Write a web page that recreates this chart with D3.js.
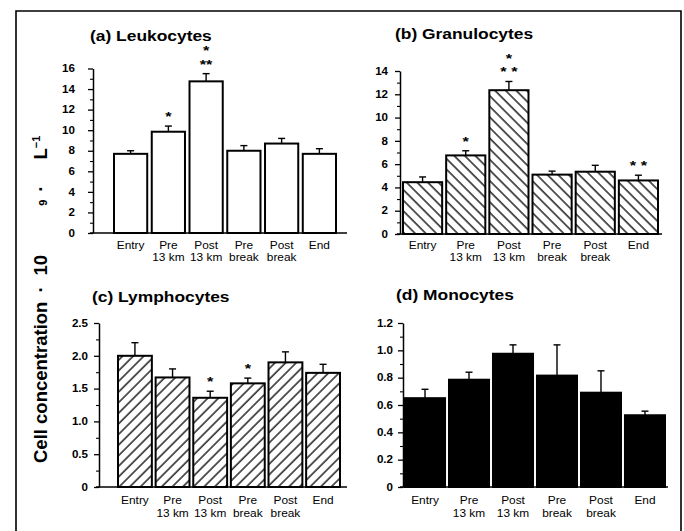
<!DOCTYPE html>
<html>
<head>
<meta charset="utf-8">
<script src="https://cdn.jsdelivr.net/npm/d3@7"></script>
<style>
html,body{margin:0;padding:0;background:#fff;}
svg{display:block;}
text{font-family:"Liberation Sans",Arial,Helvetica,sans-serif;fill:#000;}
</style>
</head>
<body>
<script>
// ---------- data ----------
const categories = ["Entry", "Pre 13 km", "Post 13 km", "Pre break", "Post break", "End"];
const catLine1 = ["Entry", "Pre", "Post", "Pre", "Post", "End"];
const catLine2 = ["", "13 km", "13 km", "break", "break", ""];

const leukoMean = [7.7, 9.85, 14.75, 8.0, 8.7, 7.7];
const leukoErr  = [0.3, 0.55, 0.75, 0.5, 0.5, 0.5];
const leukoSig  = ["", "*", "*|**", "", "", ""];
const leukoTicks = [0, 2, 4, 6, 8, 10, 12, 14, 16];
const leukoTickLabels = ["0", "2", "4", "6", "8", "10", "12", "14", "16"];
const leukoMinor = [1, 3, 5, 7, 9, 11, 13, 15];

const granMean = [4.45, 6.75, 12.35, 5.1, 5.35, 4.6];
const granErr  = [0.45, 0.4, 0.75, 0.3, 0.55, 0.45];
const granSig  = ["", "*", "*|* *", "", "", "* *"];
const granTicks = [0, 2, 4, 6, 8, 10, 12, 14];
const granTickLabels = ["0", "2", "4", "6", "8", "10", "12", "14"];
const granMinor = [1, 3, 5, 7, 9, 11, 13];

const lymphMean = [2.0, 1.67, 1.36, 1.58, 1.9, 1.74];
const lymphErr  = [0.2, 0.13, 0.1, 0.08, 0.16, 0.13];
const lymphSig  = ["", "", "*", "*", "", ""];
const lymphTicks = [0, 0.5, 1.0, 1.5, 2.0, 2.5];
const lymphTickLabels = ["0", "0.5", "1.0", "1.5", "2.0", "2.5"];
const lymphMinor = [0.25, 0.75, 1.25, 1.75, 2.25];

const monoMean = [0.65, 0.785, 0.975, 0.815, 0.69, 0.525];
const monoErr  = [0.065, 0.055, 0.065, 0.225, 0.16, 0.03];
const monoSig  = ["", "", "", "", "", ""];
const monoTicks = [0, 0.2, 0.4, 0.6, 0.8, 1.0, 1.2];
const monoTickLabels = ["0", "0.2", "0.4", "0.6", "0.8", "1.0", "1.2"];
const monoMinor = [0.1, 0.3, 0.5, 0.7, 0.9, 1.1];

const titles = ["(a) Leukocytes", "(b) Granulocytes", "(c) Lymphocytes", "(d) Monocytes"];

// ---------- layout ----------
const W = 684, H = 531;
const STRETCH = 1.16;
const svg = d3.select("body").append("svg").attr("width", W).attr("height", H);

const defs = svg.append("defs");
function hatch(id, angle) {
  const p = defs.append("pattern").attr("id", id)
    .attr("patternUnits", "userSpaceOnUse")
    .attr("width", 7.5).attr("height", 10)
    .attr("patternTransform", `rotate(${angle})`);
  p.append("rect").attr("width", 7.5).attr("height", 10).attr("fill", "#fff");
  p.append("line").attr("x1", 1).attr("x2", 1).attr("y1", -1).attr("y2", 11)
    .attr("stroke", "#000").attr("stroke-width", 1.3);
}
hatch("hatchBack", -45);
hatch("hatchFwd", 45);

// frame
svg.append("path")
  .attr("d", `M16,${H + 5}V11H681V${H + 5}`)
  .attr("fill", "none").attr("stroke", "#000").attr("stroke-width", 1.6);

function stext(g, x, y, str, size, weight, anchor, stretch) {
  return g.append("text")
    .attr("transform", `translate(${x},${y}) scale(${stretch},1)`)
    .attr("text-anchor", anchor)
    .attr("font-size", size)
    .attr("font-weight", weight)
    .text(str);
}

const panels = [
  { title: titles[0], mean: leukoMean, err: leukoErr, sig: leukoSig, ticks: leukoTicks, tl: leukoTickLabels, minor: leukoMinor,
    fill: "#fff", ax: 93, y0: 233, yT: 68.5, baseR: 347, bL: 114, bR: 336, pad: 0.12, tx: 90, ty: 41, l1: 249, l2: 261, gap: 18 },
  { title: titles[1], mean: granMean, err: granErr, sig: granSig, ticks: granTicks, tl: granTickLabels, minor: granMinor,
    fill: "url(#hatchBack)", ax: 400, y0: 234, yT: 71, baseR: 662, bL: 403, bR: 658, pad: 0.093, tx: 395, ty: 39, l1: 249, l2: 261, gap: 12 },
  { title: titles[2], mean: lymphMean, err: lymphErr, sig: lymphSig, ticks: lymphTicks, tl: lymphTickLabels, minor: lymphMinor,
    fill: "url(#hatchFwd)", ax: 99, y0: 487, yT: 323, baseR: 347, bL: 118, bR: 340, pad: 0.1, tx: 92, ty: 302, l1: 504, l2: 517, gap: 11 },
  { title: titles[3], mean: monoMean, err: monoErr, sig: monoSig, ticks: monoTicks, tl: monoTickLabels, minor: monoMinor,
    fill: "#000", ax: 403, y0: 487, yT: 323, baseR: 668, bL: 405, bR: 665, pad: 0.09, tx: 396, ty: 300, l1: 504, l2: 517, gap: 10 }
];

panels.forEach(p => {
  const g = svg.append("g");
  const maxV = p.ticks[p.ticks.length - 1];
  const y = d3.scaleLinear().domain([0, maxV]).range([p.y0, p.yT]);
  const x = d3.scaleBand().domain(categories).range([p.bL, p.bR]).paddingInner(p.pad).paddingOuter(0);

  // title
  stext(g, p.tx, p.ty, p.title, 15, "bold", "start", STRETCH);

  // bars
  g.selectAll("rect.bar").data(categories).join("rect")
    .attr("class", "bar")
    .attr("x", d => x(d))
    .attr("width", x.bandwidth())
    .attr("y", (d, i) => y(p.mean[i]))
    .attr("height", (d, i) => y(0) - y(p.mean[i]))
    .attr("fill", p.fill)
    .attr("stroke", "#000").attr("stroke-width", 2);

  // error bars
  categories.forEach((c, i) => {
    const cx = x(c) + x.bandwidth() / 2;
    const yt = y(p.mean[i] + p.err[i]);
    g.append("line").attr("x1", cx).attr("x2", cx).attr("y1", y(p.mean[i])).attr("y2", yt)
      .attr("stroke", "#000").attr("stroke-width", 1.4);
    g.append("line").attr("x1", cx - 3.5).attr("x2", cx + 3.5).attr("y1", yt).attr("y2", yt)
      .attr("stroke", "#000").attr("stroke-width", 1.4);
    // significance marks (stacked rows, lowest row first from the bar)
    if (p.sig[i]) {
      const rows = p.sig[i].split("|").reverse();
      rows.forEach((s, k) => {
        const base = yt - 5 - k * 13.5;
        stext(g, cx, base, s, 12.5, "bold", "middle", 1.3);
      });
    }
    // category labels
    stext(g, cx, p.l1, catLine1[i], 11, "normal", "middle", 1.08);
    if (catLine2[i]) stext(g, cx, p.l2, catLine2[i], 11, "normal", "middle", 1.08);
  });

  // baseline
  g.append("line").attr("x1", p.ax - 3).attr("x2", p.baseR).attr("y1", p.y0).attr("y2", p.y0)
    .attr("stroke", "#000").attr("stroke-width", 1.6);

  // y axis (major)
  const axis = d3.axisLeft(y).tickValues(p.ticks).tickSize(5).tickSizeOuter(0)
    .tickFormat((d, i) => p.tl[i]);
  const ag = g.append("g").attr("transform", `translate(${p.ax},0)`).call(axis);
  ag.select(".domain").attr("stroke-width", 1.5);
  ag.selectAll(".tick line").attr("stroke-width", 1.3);
  ag.selectAll(".tick text")
    .attr("font-family", "Liberation Sans, Arial, sans-serif")
    .attr("font-size", 10).attr("font-weight", "bold")
    .attr("x", -p.gap / STRETCH)
    .attr("transform", `scale(${STRETCH},1)`);
  // minor ticks
  const mAxis = d3.axisLeft(y).tickValues(p.minor).tickSize(3).tickSizeOuter(0).tickFormat("");
  const mg = g.append("g").attr("transform", `translate(${p.ax},0)`).call(mAxis);
  mg.select(".domain").remove();
  mg.selectAll(".tick line").attr("stroke-width", 1.1);
});

// overall y label
const yl = svg.append("text")
  .attr("transform", "translate(47,463) rotate(-90)")
  .attr("font-size", 18.5).attr("font-weight", "bold");
yl.append("tspan").text("Cell concentration");
yl.append("tspan").attr("dx", 9).text("·");
yl.append("tspan").attr("dx", 11).text("10");
yl.append("tspan").attr("dx", 49).attr("font-size", 11).text("9");
yl.append("tspan").attr("dx", 8).text("·");
yl.append("tspan").attr("dx", 26).text("L");
yl.append("tspan").attr("dy", -7).attr("font-size", 11).text("−1");
</script>
</body>
</html>
